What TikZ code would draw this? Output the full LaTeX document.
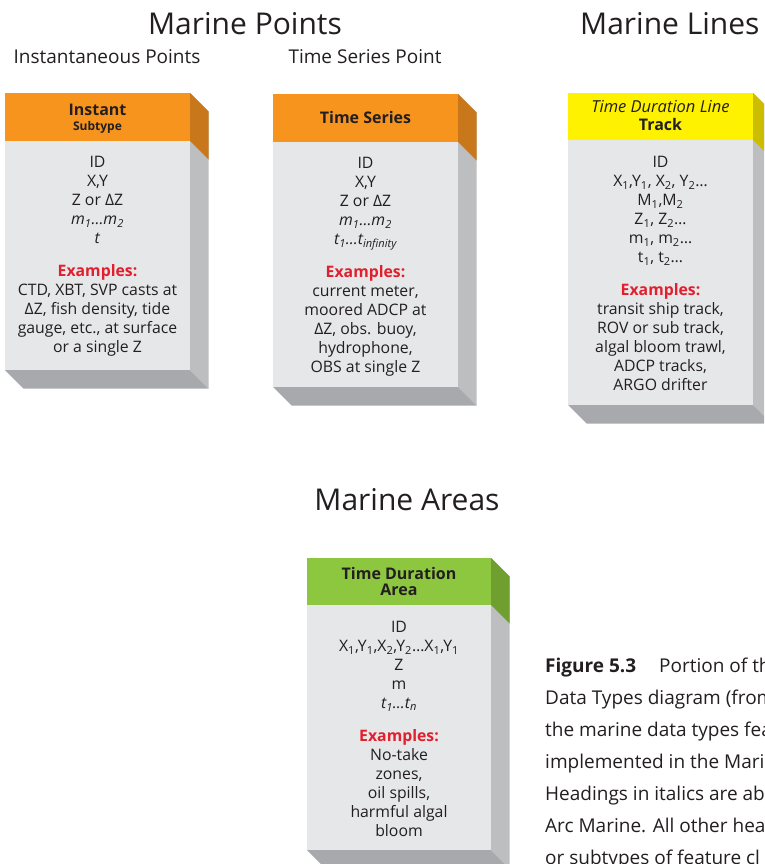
\documentclass[tikz,border=0pt]{standalone}
\usepackage{fontspec}
\setmainfont{Open Sans}
\definecolor{ink}{HTML}{231F20}
\definecolor{exred}{HTML}{E0202E}
\definecolor{bodygrey}{HTML}{E6E7E8}
\definecolor{sidegrey}{HTML}{BCBEC0}
\definecolor{botgrey}{HTML}{A7A9AC}
\definecolor{orangehdr}{HTML}{F7941E}
\definecolor{orangeside}{HTML}{C8771A}
\definecolor{yellowhdr}{HTML}{FFF200}
\definecolor{yellowside}{HTML}{CCBD00}
\definecolor{greenhdr}{HTML}{8DC63F}
\definecolor{greenside}{HTML}{6E9F2F}
\newcommand\boxthreed[7]{% xl xr ytop yhdr ybot hdr side
  \fill[bodygrey] (#1,#4) rectangle (#2,#5);
  \fill[#6] (#1,#3) rectangle (#2,#4);
  \fill[sidegrey] (#2,#3) -- (#2+18.5,#3+18.5) -- (#2+18.5,#5+18.5) -- (#2,#5) -- cycle;
  \fill[#7] (#2,#3) -- (#2+18.5,#3+18.5) -- (#2+18.5,#4+18.5) -- (#2,#4) -- cycle;
  \fill[botgrey] (#1,#5) -- (#2,#5) -- (#2+18.5,#5+18.5) -- (#1+18.5,#5+18.5) -- cycle;
}
\newcommand\exlabel{{\bfseries\color{exred}Examples:}}
\newcommand\sub[1]{\textsubscript{#1}}
\tikzset{
  bigtitle/.style={font=\fontsize{30}{34}\selectfont, text=ink, inner sep=0pt},
  subtitle/.style={font=\fontsize{19}{22}\selectfont, text=ink, inner sep=0pt},
  hdr/.style={font=\bfseries\fontsize{16}{18}\selectfont, text=ink, inner sep=0pt},
  hdrital/.style={font=\itshape\fontsize{16.5}{18}\selectfont, text=ink, inner sep=0pt},
  hdrsmall/.style={font=\bfseries\fontsize{12}{14}\selectfont, text=ink, inner sep=0pt},
  body/.style={font=\fontsize{15.8}{19}\selectfont, text=ink, align=center, anchor=north, inner sep=0pt},
  captext/.style={font=\fontsize{19}{22}\selectfont, text=ink, anchor=base west, inner sep=0pt},
}
\begin{document}
\begin{tikzpicture}[x=1pt,y=-1pt]
\clip (0,0) rectangle (764,864);
\fill[white] (0,0) rectangle (764,864);

% section titles
\node[bigtitle] (ttlpoints) at (245,24) {Marine Points};
\node[bigtitle,anchor=west] (ttllines) at (580,24) {Marine Lines};
\node[subtitle] (ttlinst) at (107,57) {Instantaneous Points};
\node[subtitle] (ttlts) at (365,57) {Time Series Point};
\node[bigtitle] (ttlareas) at (407,500) {Marine Areas};

% box 1: Instant
\boxthreed{5}{190}{93}{141}{370}{orangehdr}{orangeside}
\node[hdr] (insth) at (97.5,110) {Instant};
\node[hdrsmall] (instsub) at (97.5,127) {Subtype};
\node[body] (instb) at (97.5,156) {ID\\X,Y\\Z or ΔZ\\\textit{m\sub{1}…m\sub{2}}\\\textit{t}\\[14pt]\exlabel\\CTD, XBT, SVP casts at\\ΔZ, fish density, tide\\gauge, etc., at surface\\or a single Z};

% box 2: Time Series
\boxthreed{273}{458}{94}{142}{387}{orangehdr}{orangeside}
\node[hdr] (tsh) at (365.5,118) {Time Series};
\node[body] (tsb) at (365.5,157) {ID\\X,Y\\Z or ΔZ\\\textit{m\sub{1}…m\sub{2}}\\\textit{t\sub{1}…t\sub{infinity}}\\[14pt]\exlabel\\current meter,\\moored ADCP at\\ΔZ, obs. buoy,\\hydrophone,\\OBS at single Z};

% box 3: Track
\boxthreed{568}{753}{93}{140}{405}{yellowhdr}{yellowside}
\node[hdrital] (trkh) at (660.5,107) {Time Duration Line};
\node[hdr] (trksub) at (660.5,125) {Track};
\node[body] (trkb) at (660.5,156) {ID\\X\sub{1},Y\sub{1}, X\sub{2}, Y\sub{2}…\\M\sub{1},M\sub{2}\\Z\sub{1}, Z\sub{2}…\\m\sub{1}, m\sub{2}…\\t\sub{1}, t\sub{2}…\\[14pt]\exlabel\\transit ship track,\\ROV or sub track,\\algal bloom trawl,\\ADCP tracks,\\ARGO drifter};

% box 4: Area
\boxthreed{307}{491}{558}{605}{850}{greenhdr}{greenside}
\node[hdr] (areah) at (399,573) {Time Duration};
\node[hdr] (areasub) at (399,590) {Area};
\node[body] (areab) at (399,621) {ID\\X\sub{1},Y\sub{1},X\sub{2},Y\sub{2}…X\sub{1},Y\sub{1}\\Z\\m\\\textit{t\sub{1}…t\sub{n}}\\[14pt]\exlabel\\No-take\\zones,\\oil spills,\\harmful algal\\bloom};

% caption
\node[captext] (cap1) at (545,672) {\textbf{Figure 5.3}\hspace{23pt}Portion of the};
\node[captext] (cap2) at (545,704) {Data Types diagram (from};
\node[captext] (cap3) at (545,736) {the marine data types fea};
\node[captext] (cap4) at (545,768) {implemented in the Marine};
\node[captext] (cap5) at (545,800) {Headings in italics are ab};
\node[captext] (cap6) at (545,832) {Arc Marine. All other hea};
\node[captext] (cap7) at (545,864) {or subtypes of feature cl};
\end{tikzpicture}
\end{document}
